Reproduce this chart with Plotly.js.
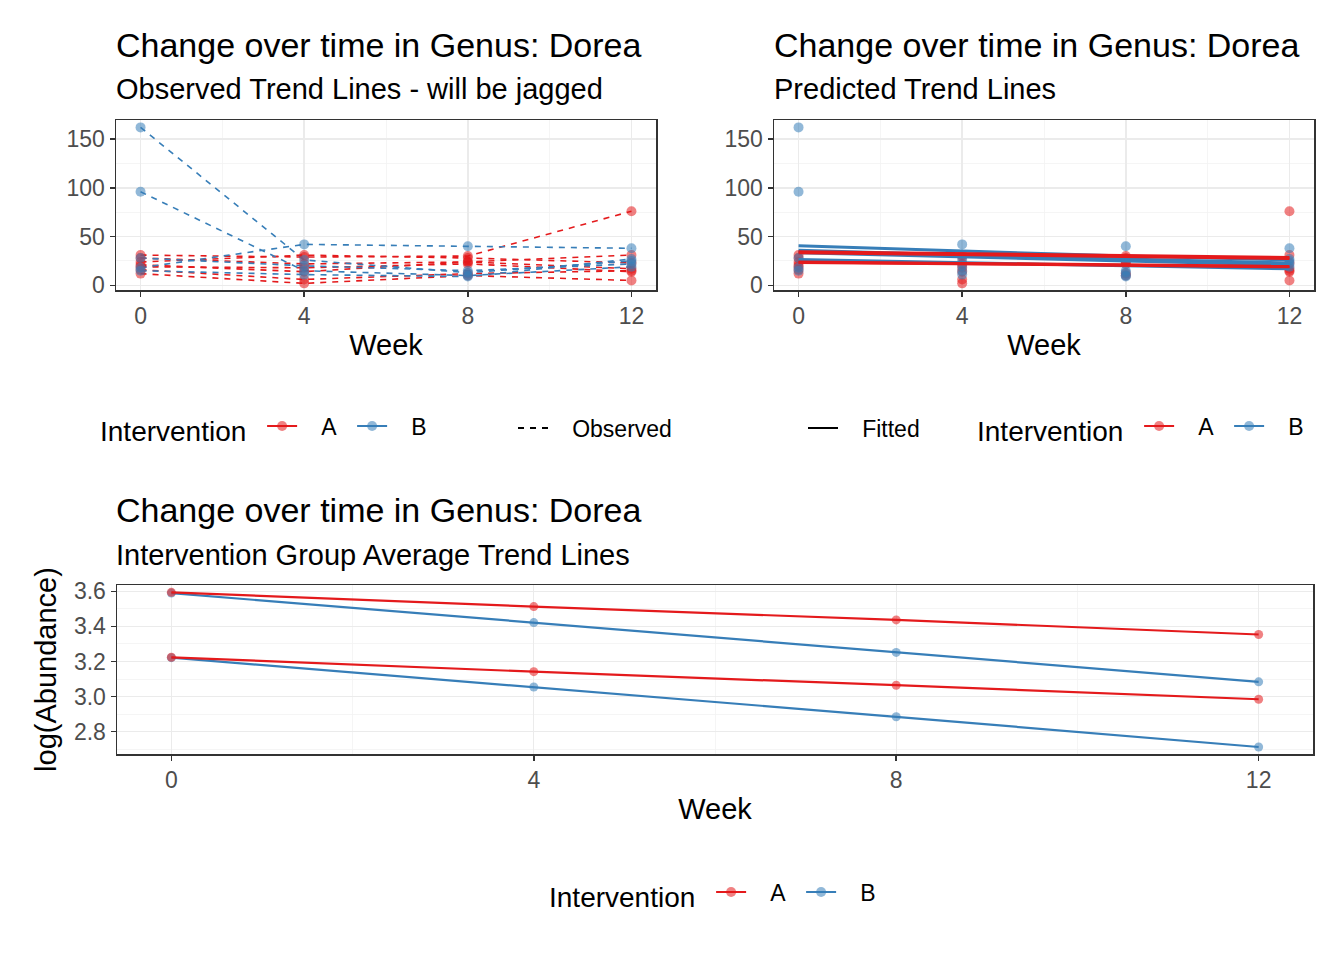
<!DOCTYPE html>
<html>
<head>
<meta charset="utf-8">
<script src="https://cdn.plot.ly/plotly-3.0.1.min.js"></script>
<style>html,body{margin:0;padding:0;background:#fff;overflow:hidden;}#chart{width:1344px;height:960px;}</style>
</head>
<body>
<div id="chart"></div>
<script>
// ---- data ----
var weeks = [0, 4, 8, 12];
var weekTicks = [0, 4, 8, 12];
var weekTickLabels = ["0", "4", "8", "12"];

// Observed abundance per subject, group A
var obsA1 = [31, 29, 30, 76];
var obsA2 = [28, 22, 24, 31];
var obsA3 = [24, 31, 28, 23];
var obsA4 = [21, 14, 24, 17];
var obsA5 = [16, 6, 12, 15];
var obsA6 = [12, 2, 10, 5];
var obsA7 = [19, 18, 22, 14];
// Observed abundance per subject, group B
var obsB1 = [162, 26, 13, 25];
var obsB2 = [96, 15, 10, 19];
var obsB3 = [18, 42, 40, 38];
var obsB4 = [15, 11, 9, 27];
var obsB5 = [28, 20, 15, 22];

// Fitted (predicted) per-subject trend lines
var fitA1 = [34.5, 32.5, 30.5, 28.5];
var fitA2 = [33.5, 31.5, 29.5, 27.5];
var fitA3 = [24, 22.5, 21, 19.5];
var fitA4 = [23.5, 22, 20.5, 19];
var fitB1 = [40.5, 35, 30, 26];
var fitB2 = [36, 31, 27, 23];
var fitB3 = [33.5, 29, 25, 21];
var fitB4 = [26.5, 23, 20, 17];

// Group average trend lines (log abundance)
var avgAhigh = [3.594, 3.513, 3.437, 3.354];
var avgBhigh = [3.590, 3.422, 3.252, 3.084];
var avgAlow = [3.224, 3.142, 3.065, 2.985];
var avgBlow = [3.222, 3.055, 2.885, 2.713];

var obsTicks = [0, 50, 100, 150];
var logTicks = [2.8, 3.0, 3.2, 3.4, 3.6];
var logTickLabels = ["2.8", "3.0", "3.2", "3.4", "3.6"];

var colA = "#E41A1C", colB = "#377EB8";
var FONT = "Liberation Sans, Arial, sans-serif";
var NB = "\u00A0\u00A0\u00A0";

var obsA = [obsA1, obsA2, obsA3, obsA4, obsA5, obsA6, obsA7];
var obsB = [obsB1, obsB2, obsB3, obsB4, obsB5];
var fitA = [fitA1, fitA2, fitA3, fitA4];
var fitB = [fitB1, fitB2, fitB3, fitB4];

var traces = [];
// Top-left: observed dashed lines with points
obsA.forEach(function (v) {
  traces.push({x: weeks, y: v, xaxis: "x", yaxis: "y", mode: "lines", showlegend: false, hoverinfo: "skip",
    line: {color: colA, width: 1.6, dash: "6px,6px"}});
});
obsB.forEach(function (v) {
  traces.push({x: weeks, y: v, xaxis: "x", yaxis: "y", mode: "lines", showlegend: false, hoverinfo: "skip",
    line: {color: colB, width: 1.6, dash: "6px,6px"}});
});
obsA.concat(obsB).forEach(function (v, i) {
  traces.push({x: weeks, y: v, xaxis: "x", yaxis: "y", mode: "markers", showlegend: false,
    marker: {color: i < obsA.length ? colA : colB, size: 10, opacity: 0.55}});
});
// Top-right: points + fitted lines
obsA.concat(obsB).forEach(function (v, i) {
  traces.push({x: weeks, y: v, xaxis: "x2", yaxis: "y2", mode: "markers", showlegend: false,
    marker: {color: i < obsA.length ? colA : colB, size: 10, opacity: 0.55}});
});
fitB.forEach(function (v) {
  traces.push({x: weeks, y: v, xaxis: "x2", yaxis: "y2", mode: "lines", showlegend: false,
    line: {color: colB, width: 3}});
});
fitA.forEach(function (v) {
  traces.push({x: weeks, y: v, xaxis: "x2", yaxis: "y2", mode: "lines", showlegend: false,
    line: {color: colA, width: 3}});
});
// Bottom: group averages
[[avgBhigh, colB], [avgBlow, colB], [avgAhigh, colA], [avgAlow, colA]].forEach(function (p) {
  traces.push({x: weeks, y: p[0], xaxis: "x3", yaxis: "y3", mode: "lines+markers", showlegend: false,
    line: {color: p[1], width: 2.2}, marker: {color: p[1], size: 9, opacity: 0.55}});
});

// Legend entries
function legendEntry(name, color, legend, mode, dash) {
  return {x: [null], y: [null], xaxis: "x", yaxis: "y", name: NB + name, mode: mode, legend: legend,
    line: {color: color, width: 2, dash: dash || "solid"}, marker: {color: color, size: 10, opacity: 0.55}};
}
traces.push(legendEntry("A", colA, "legend", "lines+markers"));
traces.push(legendEntry("B", colB, "legend", "lines+markers"));
traces.push(legendEntry("Observed", "#000000", "legend2", "lines", "6px,6px"));
traces.push(legendEntry("Fitted", "#000000", "legend3", "lines"));
traces.push(legendEntry("A", colA, "legend4", "lines+markers"));
traces.push(legendEntry("B", colB, "legend4", "lines+markers"));
traces.push(legendEntry("A", colA, "legend5", "lines+markers"));
traces.push(legendEntry("B", colB, "legend5", "lines+markers"));

function axisBase(extra) {
  var a = {
    showline: true, linecolor: "#333333", linewidth: 1.5, mirror: true,
    ticks: "outside", ticklen: 5, tickwidth: 1.5, tickcolor: "#333333",
    showgrid: true, gridcolor: "#EBEBEB", gridwidth: 1.4, zeroline: false,
    tickfont: {family: FONT, size: 23, color: "#4D4D4D"},
    fixedrange: true, automargin: false
  };
  for (var k in extra) a[k] = extra[k];
  return a;
}
var titleFont = {family: FONT, size: 29, color: "#000000"};

function xWeek(domain, anchor) {
  return axisBase({domain: domain, anchor: anchor, range: [-0.6, 12.6], tickmode: "array",
    tickvals: weekTicks, ticktext: weekTickLabels,
    minor: {tickvals: [2, 6, 10], showgrid: true, gridcolor: "#F3F3F3", gridwidth: 0.8, ticks: ""},
    title: {text: "Week", font: titleFont, standoff: 6}});
}
function yObs(domain, anchor) {
  return axisBase({domain: domain, anchor: anchor, range: [-4.8, 169.6], tickmode: "array",
    tickvals: obsTicks, ticktext: obsTicks.map(String),
    minor: {tickvals: [25, 75, 125], showgrid: true, gridcolor: "#F3F3F3", gridwidth: 0.8, ticks: ""}});
}

var legendCommon = {orientation: "h", yanchor: "middle", xanchor: "left", bgcolor: "rgba(0,0,0,0)",
  font: {family: FONT, size: 23, color: "#000000"}, entrywidth: 45, entrywidthmode: "pixels"};
function leg(x, y, title, ew) {
  var l = {}; for (var k in legendCommon) l[k] = legendCommon[k];
  l.x = x; l.y = y;
  if (ew) l.entrywidth = ew;
  if (title) l.title = {text: title + "\u00A0", font: {family: FONT, size: 28, color: "#000000"}, side: "left"};
  return l;
}

var yTop = [1 - 290 / 960, 1 - 120 / 960];
var layout = {
  width: 1344, height: 960,
  margin: {l: 0, r: 0, t: 0, b: 0},
  paper_bgcolor: "#ffffff", plot_bgcolor: "#ffffff",
  font: {family: FONT},
  showlegend: true,
  xaxis: xWeek([116 / 1344, 656 / 1344], "y"),
  yaxis: yObs(yTop, "x"),
  xaxis2: xWeek([774 / 1344, 1314 / 1344], "y2"),
  yaxis2: yObs(yTop, "x2"),
  xaxis3: xWeek([117 / 1344, 1313 / 1344], "y3"),
  yaxis3: axisBase({domain: [1 - 754 / 960, 1 - 585 / 960], anchor: "x3", range: [2.673, 3.636],
    tickmode: "array", tickvals: logTicks, ticktext: logTickLabels,
    minor: {tickvals: [2.7, 2.9, 3.1, 3.3, 3.5], showgrid: true, gridcolor: "#F3F3F3", gridwidth: 0.8, ticks: ""},
    title: {text: "log(Abundance)", font: titleFont, standoff: 9}}),
  legend: leg(98 / 1344, 1 - 428 / 960, "Intervention"),
  legend2: leg(513 / 1344, 1 - 428 / 960, null, 160),
  legend3: leg(803 / 1344, 1 - 428 / 960, null, 100),
  legend4: leg(975 / 1344, 1 - 428 / 960, "Intervention"),
  legend5: leg(547 / 1344, 1 - 894 / 960, "Intervention"),
  annotations: [
    {text: "Change over time in Genus: Dorea", x: 114 / 1344, y: 1 - 45 / 960, xref: "paper", yref: "paper",
      xanchor: "left", yanchor: "middle", showarrow: false, font: {family: FONT, size: 34, color: "#000"}},
    {text: "Observed Trend Lines - will be jagged", x: 114 / 1344, y: 1 - 89 / 960, xref: "paper", yref: "paper",
      xanchor: "left", yanchor: "middle", showarrow: false, font: {family: FONT, size: 29, color: "#000"}},
    {text: "Change over time in Genus: Dorea", x: 772 / 1344, y: 1 - 45 / 960, xref: "paper", yref: "paper",
      xanchor: "left", yanchor: "middle", showarrow: false, font: {family: FONT, size: 34, color: "#000"}},
    {text: "Predicted Trend Lines", x: 772 / 1344, y: 1 - 89 / 960, xref: "paper", yref: "paper",
      xanchor: "left", yanchor: "middle", showarrow: false, font: {family: FONT, size: 29, color: "#000"}},
    {text: "Change over time in Genus: Dorea", x: 114 / 1344, y: 1 - 510 / 960, xref: "paper", yref: "paper",
      xanchor: "left", yanchor: "middle", showarrow: false, font: {family: FONT, size: 34, color: "#000"}},
    {text: "Intervention Group Average Trend Lines", x: 114 / 1344, y: 1 - 555 / 960, xref: "paper", yref: "paper",
      xanchor: "left", yanchor: "middle", showarrow: false, font: {family: FONT, size: 29, color: "#000"}}
  ]
};

Plotly.newPlot("chart", traces, layout, {displayModeBar: false, staticPlot: true});
</script>
</body>
</html>
